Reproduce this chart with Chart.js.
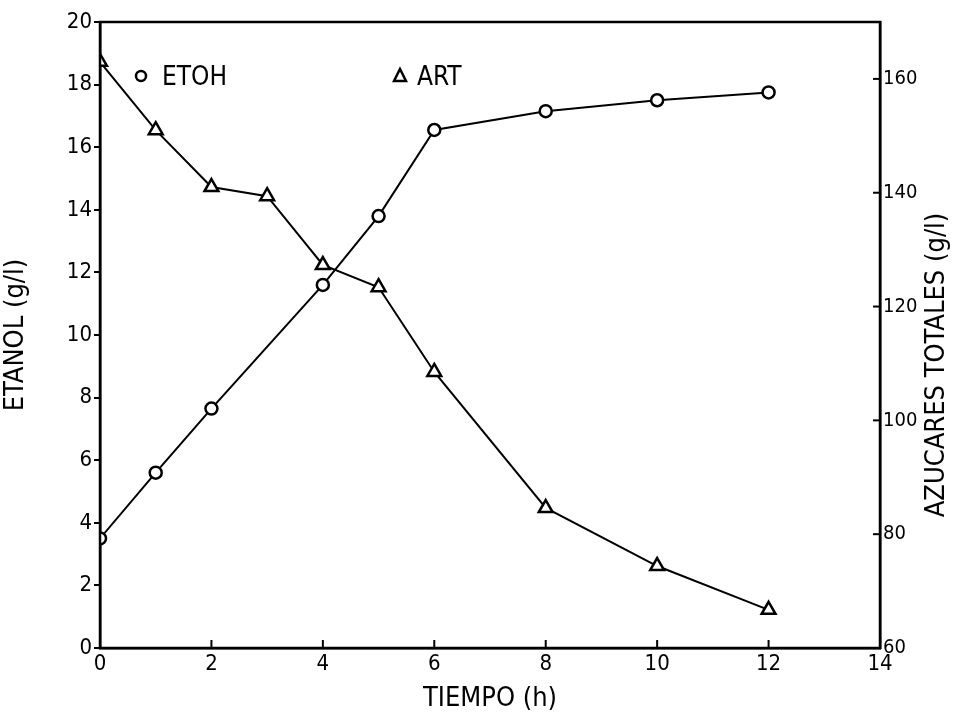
<!DOCTYPE html>
<html>
<head>
<meta charset="utf-8">
<script src="https://cdn.jsdelivr.net/npm/chart.js@4"></script>
<style>
  html, body { margin: 0; padding: 0; background: #fff; }
  #wrap { width: 961px; height: 715px; }
</style>
</head>
<body>
<div id="wrap"><canvas id="myChart" width="961" height="715"></canvas></div>
<script>
// tiempo (h)
const tiempo = [0, 1, 2, 3, 4, 5, 6, 8, 10, 12];
// etanol g/l (no punto a las 3 h)
const etoh = [3.5, 5.6, 7.65, null, 11.6, 13.8, 16.55, 17.15, 17.5, 17.75];
// azucares reductores totales g/l
const art = [163, 151, 141, 139.4, 127.3, 123.4, 108.5, 84.6, 74.4, 66.7];
const xTicks = [0, 2, 4, 6, 8, 10, 12, 14];
const rightTicks = [60, 80, 100, 120, 140, 160];

const FONT = "'DejaVu Sans Condensed', 'Liberation Sans Narrow', sans-serif";

// caja, marcas hacia dentro, leyenda y titulo derecho
const extras = {
    id: 'extras',
    afterDraw(chart) {
        const ctx = chart.ctx;
        const a = chart.chartArea;
        const x = chart.scales.x;
        const y2 = chart.scales.y2;
        ctx.save();
        ctx.strokeStyle = '#000';
        ctx.lineWidth = 2.5;
        ctx.strokeRect(a.left, a.top, a.right - a.left, a.bottom - a.top);

        ctx.lineWidth = 2;
        xTicks.forEach(function (v) {
            const px = x.getPixelForValue(v);
            ctx.beginPath();
            ctx.moveTo(px, a.bottom);
            ctx.lineTo(px, a.bottom - 8);
            ctx.stroke();
        });
        rightTicks.forEach(function (v) {
            const py = y2.getPixelForValue(v);
            ctx.beginPath();
            ctx.moveTo(a.right, py);
            ctx.lineTo(a.right - 7, py);
            ctx.stroke();
        });

        // leyenda
        ctx.fillStyle = '#000';
        ctx.font = '26px ' + FONT;
        ctx.textBaseline = 'middle';
        ctx.lineWidth = 2.5;
        ctx.beginPath();
        ctx.arc(141, 76, 5, 0, Math.PI * 2);
        ctx.stroke();
        ctx.fillText(chart.data.datasets[0].label, 162, 78);
        ctx.beginPath();
        ctx.moveTo(400, 69);
        ctx.lineTo(406, 81);
        ctx.lineTo(394, 81);
        ctx.closePath();
        ctx.stroke();
        ctx.fillText(chart.data.datasets[1].label, 417, 78);

        // titulo eje derecho (de abajo hacia arriba)
        ctx.translate(937, 365);
        ctx.rotate(-Math.PI / 2);
        ctx.textAlign = 'center';
        ctx.font = '27px ' + FONT;
        ctx.fillText('AZUCARES TOTALES (g/l)', 0, 0);
        ctx.restore();
    }
};

new Chart(document.getElementById('myChart'), {
    type: 'line',
    data: {
        labels: tiempo,
        datasets: [{
            label: 'ETOH',
            data: tiempo.map((t, i) => ({ x: t, y: etoh[i] })),
            yAxisID: 'y',
            borderColor: '#000',
            borderWidth: 2,
            pointStyle: 'circle',
            pointRadius: 6,
            pointBorderWidth: 2.5,
            pointBackgroundColor: '#fff',
            pointBorderColor: '#000',
            spanGaps: true,
            tension: 0
        }, {
            label: 'ART',
            data: tiempo.map((t, i) => ({ x: t, y: art[i] })),
            yAxisID: 'y2',
            borderColor: '#000',
            borderWidth: 2,
            pointStyle: 'triangle',
            pointRadius: 8,
            pointBorderWidth: 2.5,
            pointBackgroundColor: '#fff',
            pointBorderColor: '#000',
            tension: 0
        }]
    },
    options: {
        responsive: false,
        animation: false,
        layout: { padding: { top: 22, right: 0, left: 0, bottom: 0 } },
        plugins: {
            legend: { display: false },
            tooltip: { enabled: false }
        },
        scales: {
            x: {
                type: 'linear',
                min: 0,
                max: 14,
                afterBuildTicks: (s) => { s.ticks = xTicks.map(v => ({ value: v })); },
                afterFit: (s) => { s.height = 67; },
                grid: { display: false, drawTicks: false },
                border: { color: '#000', width: 2.5 },
                ticks: { color: '#000', font: { family: FONT, size: 22 }, padding: 3, maxRotation: 0 },
                title: { display: true, text: 'TIEMPO (h)', color: '#000', font: { family: FONT, size: 27 }, padding: { top: 0, bottom: 0 } }
            },
            y: {
                position: 'left',
                min: 0,
                max: 20,
                afterFit: (s) => { s.width = 100; },
                grid: { drawOnChartArea: false, drawTicks: true, tickLength: 6, color: '#000', lineWidth: 2 },
                border: { color: '#000', width: 2.5 },
                ticks: { stepSize: 2, color: '#000', font: { family: FONT, size: 22 }, padding: 2 },
                title: { display: true, text: 'ETANOL (g/l)', color: '#000', font: { family: FONT, size: 27 }, padding: { top: 0, bottom: 6 } }
            },
            y2: {
                position: 'right',
                min: 60,
                max: 170,
                afterBuildTicks: (s) => { s.ticks = rightTicks.map(v => ({ value: v })); },
                afterFit: (s) => { s.width = 81; },
                grid: { display: false, drawTicks: false },
                border: { color: '#000', width: 2.5 },
                ticks: { color: '#000', font: { family: FONT, size: 20 }, padding: 3 }
            }
        }
    },
    plugins: [extras]
});
</script>
</body>
</html>
